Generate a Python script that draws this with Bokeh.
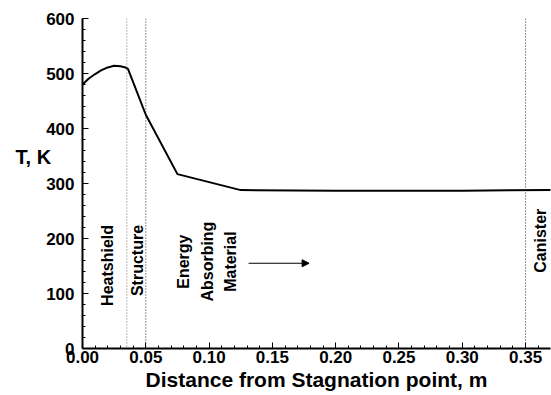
import math
from bokeh.plotting import figure
from bokeh.models import Span, Arrow, NormalHead, Range1d, FixedTicker
from bokeh.core.properties import value
from bokeh.embed import file_html
from bokeh.resources import INLINE

# temperature profile
dist = [0.0, 0.005, 0.010, 0.015, 0.020, 0.025, 0.030, 0.034, 0.036, 0.050, 0.075, 0.125, 0.20, 0.30, 0.37]
temp = [480, 491, 499, 506, 511, 514, 513, 511, 508, 425, 317, 288, 287, 287, 288]

# boundaries between layers
bounds = [0.035, 0.050, 0.350]
bound_colors = ["#777777", "#222222", "#222222"]

# region labels
lab_text = ["Heatshield", "Structure", "Energy", "Absorbing", "Material", "Canister"]
lab_x = [0.0198, 0.0435, 0.0795, 0.0985, 0.1170, 0.3617]
lab_y = [151, 160, 158, 158, 158, 196]

x_ticks = [0.0, 0.05, 0.10, 0.15, 0.20, 0.25, 0.30, 0.35]
y_ticks = [0, 100, 200, 300, 400, 500, 600]

FONT = "Liberation Sans"

p = figure(width=551, height=395, output_backend="svg", toolbar_location=None,
           x_range=Range1d(0, 0.3697), y_range=Range1d(0, 600),
           min_border_left=82, min_border_right=1, min_border_top=18, min_border_bottom=47)
p.outline_line_color = None
p.grid.visible = False
p.background_fill_color = "white"

p.line(dist, temp, line_color="black", line_width=2)

for b, c in zip(bounds, bound_colors):
    p.add_layout(Span(location=b, dimension="height", line_color=c, line_width=1,
                      line_dash="1 2"))

p.text(x=lab_x, y=lab_y, text=lab_text, angle=math.pi / 2, text_align="center",
       text_baseline="middle", text_font=value(FONT), text_font_style="bold",
       text_font_size="16px", text_color="black")

p.add_layout(Arrow(x_start=0.1312, y_start=155, x_end=0.1790, y_end=155,
                   line_color="black", line_width=1,
                   end=NormalHead(size=7, fill_color="black", line_color="black")))

# axes
p.xaxis.ticker = FixedTicker(ticks=x_ticks, minor_ticks=[i * 0.01 for i in range(38)])
p.yaxis.ticker = FixedTicker(ticks=y_ticks, minor_ticks=list(range(0, 601, 20)))
p.xaxis.major_label_overrides = {t: f"{t:.2f}" for t in x_ticks}
for ax in (p.xaxis, p.yaxis):
    ax.axis_line_width = 2
    ax.axis_line_color = "black"
    ax.major_tick_in = 6
    ax.major_tick_out = 0
    ax.minor_tick_in = 3
    ax.minor_tick_out = 0
    ax.major_tick_line_width = 1
    ax.minor_tick_line_width = 1
    ax.major_label_text_font = FONT
    ax.major_label_text_font_style = "bold"
    ax.major_label_text_font_size = "17px"
    ax.major_label_text_color = "black"
p.yaxis.major_label_standoff = 8
p.xaxis.major_label_standoff = 2
p.xaxis.axis_label = "Distance from Stagnation point, m"
p.xaxis.axis_label_text_font = FONT
p.xaxis.axis_label_text_font_style = "bold"
p.xaxis.axis_label_text_font_size = "21px"
p.xaxis.axis_label_text_color = "black"
p.xaxis.axis_label_standoff = 2

p.yaxis.axis_label = "T, K\n \n "
p.yaxis.axis_label_orientation = "horizontal"
p.yaxis.axis_label_text_font = FONT
p.yaxis.axis_label_text_font_style = "bold"
p.yaxis.axis_label_text_font_size = "20px"
p.yaxis.axis_label_text_color = "black"
p.yaxis.axis_label_standoff = -8

open("out.html", "w").write(file_html(p, INLINE))
